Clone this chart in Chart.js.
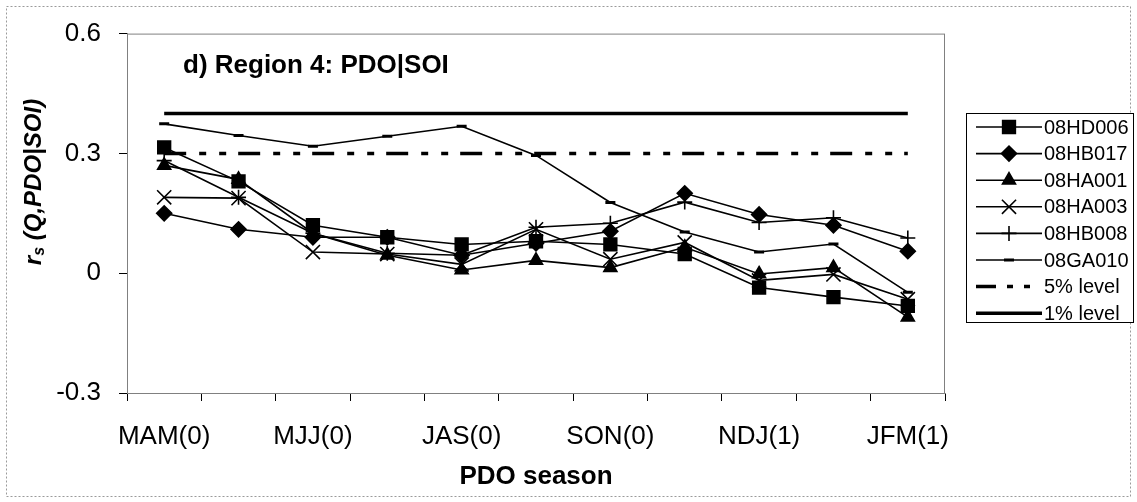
<!DOCTYPE html>
<html>
<head>
<meta charset="utf-8">
<script src="https://cdn.jsdelivr.net/npm/chart.js@4.4.1/dist/chart.umd.min.js"></script>
<style>
  html, body { margin: 0; padding: 0; background: #fff; }
  #wrap { width: 1137px; height: 502px; position: relative; }
</style>
</head>
<body>
<div id="wrap"><canvas id="pdoChart" width="1137" height="502"></canvas></div>
<script>
// PDO seasons (three-month running windows), labelled every second one
const seasons = ['MAM(0)', 'AMJ(0)', 'MJJ(0)', 'JJA(0)', 'JAS(0)', 'ASO(0)', 'SON(0)', 'OND(0)', 'NDJ(1)', 'DJF(1)', 'JFM(1)'];

// partial rank correlations per station
const hd006 = [0.315, 0.23, 0.12, 0.09, 0.072, 0.08, 0.072, 0.048, -0.036, -0.06, -0.082];
const hb017 = [0.15, 0.11, 0.09, 0.09, 0.045, 0.075, 0.105, 0.2, 0.147, 0.12, 0.055];
const ha001 = [0.27, 0.235, 0.10, 0.045, 0.008, 0.032, 0.014, 0.065, -0.002, 0.014, -0.11];
const ha003 = [0.19, 0.188, 0.053, 0.048, 0.022, 0.11, 0.035, 0.077, -0.018, -0.003, -0.065];
const hb008 = [0.282, 0.19, 0.10, 0.05, 0.045, 0.115, 0.125, 0.178, 0.127, 0.139, 0.088];
const ga010 = [0.374, 0.345, 0.318, 0.343, 0.368, 0.295, 0.177, 0.103, 0.053, 0.073, -0.048];

// significance thresholds
const level5 = 0.3;
const level1 = 0.4;

const yTicks = [0.6, 0.3, 0, -0.3];

const FONT = '"Liberation Sans", Arial, sans-serif';

function station(label, data, style, radius) {
  return {
    label: label,
    data: data,
    borderColor: '#000',
    backgroundColor: '#000',
    borderWidth: 1.6,
    pointStyle: style,
    pointRadius: radius,
    pointHoverRadius: radius,
    pointBorderWidth: style === 'line' ? 3 : 1.6,
    tension: 0
  };
}

function level(label, value, dash) {
  return {
    label: label,
    data: seasons.map(() => value),
    borderColor: '#000',
    borderWidth: 3.5,
    borderDash: dash,
    pointRadius: 0,
    pointHoverRadius: 0,
    tension: 0
  };
}

const datasets = [
  station('08HD006', hd006, 'rect', 9),
  station('08HB017', hb017, 'rectRot', 7.5),
  station('08HA001', ha001, 'triangle', 7.5),
  station('08HA003', ha003, 'crossRot', 10),
  station('08HB008', hb008, 'cross', 7.5),
  station('08GA010', ga010, 'line', 5),
  level('5% level', level5, [22, 13, 7, 13, 7, 12]),
  level('1% level', level1, [])
];

// frame, panel title, y title with subscript and the legend box
const decorations = {
  id: 'decorations',
  beforeDraw(chart) {
    const ctx = chart.ctx;
    ctx.save();
    ctx.fillStyle = '#fff';
    ctx.fillRect(0, 0, chart.width, chart.height);
    ctx.strokeStyle = '#9a9a9a';
    ctx.lineWidth = 1;
    ctx.setLineDash([2, 2]);
    ctx.strokeRect(6.5, 6.5, chart.width - 13, chart.height - 12);
    ctx.restore();
  },
  afterDraw(chart) {
    const ctx = chart.ctx;
    const a = chart.chartArea;
    ctx.save();

    // plot frame
    ctx.strokeStyle = '#808080';
    ctx.lineWidth = 1;
    ctx.strokeRect(a.left + 0.5, a.top + 0.5, a.right - a.left - 1, a.bottom - a.top);

    // panel title
    ctx.fillStyle = '#000';
    ctx.font = 'bold 26px ' + FONT;
    ctx.textBaseline = 'alphabetic';
    ctx.textAlign = 'left';
    ctx.fillText('d) Region 4: PDO|SOI', a.left + 56, a.top + 39);

    // y title: r_s (Q,PDO|SOI)
    ctx.translate(34, 182);
    ctx.rotate(-Math.PI / 2);
    const big = 'bold italic 24px ' + FONT;
    const small = 'bold italic 16px ' + FONT;
    const parts = [['r', big, 0], ['s', small, 6], [' (Q,PDO|SOI)', big, 0]];
    let total = 0;
    parts.forEach(p => { ctx.font = p[1]; total += ctx.measureText(p[0]).width; });
    let x = -total / 2;
    ctx.textBaseline = 'middle';
    parts.forEach(p => {
      ctx.font = p[1];
      ctx.fillText(p[0], x, p[2]);
      x += ctx.measureText(p[0]).width;
    });
    ctx.setTransform(1, 0, 0, 1, 0, 0);

    // legend
    const lx = 966, ly = 113, lw = 167, lh = 209, rowH = 26.6;
    ctx.fillStyle = '#fff';
    ctx.fillRect(lx, ly, lw, lh);
    ctx.strokeStyle = '#000';
    ctx.lineWidth = 1;
    ctx.strokeRect(lx + 0.5, ly + 0.5, lw, lh);
    chart.data.datasets.forEach((ds, i) => {
      const y = ly + 14 + i * rowH;
      ctx.save();
      ctx.strokeStyle = '#000';
      ctx.lineWidth = ds.pointRadius ? 1.6 : 3.5;
      ctx.setLineDash(ds.borderDash && ds.borderDash.length ? [20, 11, 6, 11, 6, 12] : []);
      ctx.beginPath();
      ctx.moveTo(976, y);
      ctx.lineTo(1042, y);
      ctx.stroke();
      ctx.restore();
      if (ds.pointRadius) {
        ctx.save();
        ctx.fillStyle = '#000';
        ctx.strokeStyle = '#000';
        ctx.lineWidth = ds.pointBorderWidth;
        Chart.helpers.drawPoint(ctx, {
          pointStyle: ds.pointStyle,
          radius: ds.pointRadius,
          rotation: 0,
          borderWidth: ds.pointBorderWidth
        }, 1009, y);
        ctx.restore();
      }
      ctx.fillStyle = '#000';
      ctx.font = '20px ' + FONT;
      ctx.textBaseline = 'middle';
      ctx.textAlign = 'left';
      ctx.fillText(ds.label, 1044, y + 1);
    });
    ctx.restore();
  }
};

new Chart(document.getElementById('pdoChart'), {
  type: 'line',
  data: { labels: seasons, datasets: datasets },
  options: {
    responsive: false,
    animation: false,
    events: [],
    layout: { padding: { top: 33, right: 192, left: 0, bottom: 0 } },
    plugins: {
      legend: { display: false },
      tooltip: { enabled: false }
    },
    scales: {
      x: {
        type: 'category',
        offset: true,
        afterFit(scale) { scale.height = 109; },
        grid: {
          offset: true,
          drawOnChartArea: false,
          drawTicks: true,
          tickLength: 8,
          color: '#000'
        },
        border: { color: '#808080' },
        ticks: {
          autoSkip: false,
          maxRotation: 0,
          padding: 20,
          color: '#000',
          font: { family: FONT, size: 26 },
          callback(value, index) { return index % 2 === 0 ? seasons[index] : ''; }
        },
        title: {
          display: true,
          text: 'PDO season',
          color: '#000',
          font: { family: FONT, size: 26, weight: 'bold' },
          padding: { top: 0, bottom: 10 }
        }
      },
      y: {
        min: -0.3,
        max: 0.6,
        afterFit(scale) { scale.width = 127; },
        afterBuildTicks(scale) { scale.ticks = yTicks.map(v => ({ value: v })); },
        grid: {
          drawOnChartArea: false,
          drawTicks: true,
          tickLength: 8,
          color: '#000'
        },
        border: { color: '#808080' },
        ticks: {
          padding: 18,
          color: '#000',
          font: { family: FONT, size: 26 },
          callback(value) { return value === 0 ? '0' : value.toFixed(1); }
        }
      }
    }
  },
  plugins: [decorations]
});
</script>
</body>
</html>
